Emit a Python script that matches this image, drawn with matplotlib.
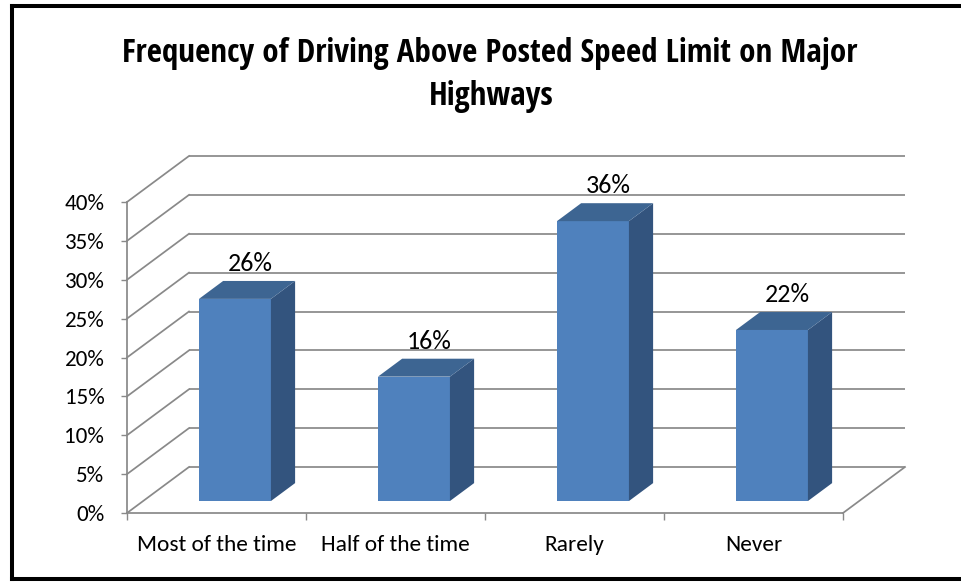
import matplotlib
matplotlib.use("Agg")
import matplotlib.pyplot as plt
from matplotlib.lines import Line2D

# ---- data ----
categories = ["Most of the time", "Half of the time", "Rarely", "Never"]
values = [26, 16, 36, 22]
y_ticks = [0, 5, 10, 15, 20, 25, 30, 35, 40]
y_tick_labels = ["0%", "5%", "10%", "15%", "20%", "25%", "30%", "35%", "40%"]
value_labels = ["26%", "16%", "36%", "22%"]
title_lines = ["Frequency of Driving Above Posted Speed Limit on Major", "Highways"]

# ---- style / geometry ----
W, H = 961, 582
FRONT = "#4F81BD"
TOP = "#3D6592"
SIDE = "#33547E"
GRID = "#898989"
CAT_PX = 179.0        # pixels per category
PCT_PX = 7.775        # pixels per percent
DX_PX, DY_PX = 62.0, 46.0
DX = DX_PX / CAT_PX   # depth offset in category units
DY = DY_PX / PCT_PX   # depth offset in percent units
F1, F2 = 0.26, 0.65   # bar depth (fraction of floor depth)
BAR_W = 0.402
BAR_SHIFT = 0.013     # small horizontal nudge of bars
LABEL_SHIFT = 0.087   # label centre relative to bar front centre

x0_px, y0_px = 127.0, 513.0
n = len(categories)
xmax = n + DX
ymax = max(y_ticks) + DY

fig = plt.figure(figsize=(W / 100, H / 100), dpi=100)
fig.patch.set_facecolor("white")
ax = fig.add_axes([x0_px / W, (H - y0_px) / H,
                   xmax * CAT_PX / W, ymax * PCT_PX / H])
ax.set_xlim(0, xmax)
ax.set_ylim(0, ymax)
for s in ax.spines.values():
    s.set_visible(False)
ax.patch.set_alpha(0)

lw = 1.25
# back wall gridlines and left wall diagonals
for v in y_ticks:
    ax.plot([DX, n + DX], [v + DY, v + DY], color=GRID, lw=lw, zorder=1,
            clip_on=False, solid_capstyle="butt")
    ax.plot([0, DX], [v, v + DY], color=GRID, lw=lw, zorder=1, clip_on=False)
# floor edges
ax.plot([0, n], [0, 0], color=GRID, lw=lw, zorder=1, clip_on=False)
ax.plot([n, n + DX], [0, DY], color=GRID, lw=lw, zorder=1, clip_on=False)
# vertical axis line
ax.plot([0, 0], [0, max(y_ticks)], color=GRID, lw=lw, zorder=1, clip_on=False)

# bars
for i, v in enumerate(values):
    c = i + 0.5 + BAR_SHIFT + F1 * DX   # centre of bar front face
    xl = c - BAR_W / 2
    xr = c + BAR_W / 2
    yb = F1 * DY
    yt = v + F1 * DY
    ddx = (F2 - F1) * DX
    ddy = (F2 - F1) * DY
    ax.fill([xl, xr, xr, xl], [yb, yb, yt, yt], color=FRONT, lw=0, zorder=3)
    ax.fill([xr, xr + ddx, xr + ddx, xr], [yb, yb + ddy, yt + ddy, yt],
            color=SIDE, lw=0, zorder=3)
    ax.fill([xl, xr, xr + ddx, xl + ddx], [yt, yt, yt + ddy, yt + ddy],
            color=TOP, lw=0, zorder=3)
    ax.text(c + LABEL_SHIFT, v + F2 * DY + 1.3, value_labels[i],
            ha="center", va="baseline", family="Carlito",
            fontsize=26 * 0.72, color="black", zorder=4)

# y ticks
ax.set_yticks(y_ticks)
ax.set_yticklabels(y_tick_labels, family="Carlito", fontsize=23 * 0.72)
ax.tick_params(axis="y", direction="out", length=4.3, width=1, color=GRID,
               pad=12)
# x ticks: boundaries (major, no label), category labels (minor)
ax.set_xticks(list(range(n + 1)))
ax.set_xticklabels([""] * (n + 1))
ax.set_xticks([i + 0.5 for i in range(n)], minor=True)
ax.set_xticklabels(categories, minor=True, family="Carlito",
                   fontsize=23.4 * 0.72)
ax.tick_params(axis="x", which="major", direction="out", length=5,
               width=1, color=GRID)
ax.tick_params(axis="x", which="minor", length=0, pad=16)

# title
r = fig.canvas.get_renderer()
t1 = fig.text(490 / W, 1 - 62 / H, title_lines[0], ha="center",
              va="baseline", family="Open Sans Condensed", weight="bold",
              fontsize=22.5)
fig.canvas.draw()
wpx = t1.get_window_extent(r).width
fs = 22.5 * 735.0 / wpx
t1.set_fontsize(fs)
fig.text(491 / W, 1 - 105 / H, title_lines[1], ha="center", va="baseline",
         family="Open Sans Condensed", weight="bold", fontsize=fs)

# outer border
bk = dict(color="black", lw=2.9, transform=fig.transFigure,
          solid_capstyle="projecting")
fig.add_artist(Line2D([12 / W, 1.01], [1 - 5.5 / H, 1 - 5.5 / H], **bk))
fig.add_artist(Line2D([12 / W, 12 / W], [1 - 5.5 / H, 1 - 578.5 / H], **bk))
fig.add_artist(Line2D([12 / W, 1.01], [1 - 578.5 / H, 1 - 578.5 / H], **bk))

fig.savefig("out.png", dpi=100, facecolor="white")
